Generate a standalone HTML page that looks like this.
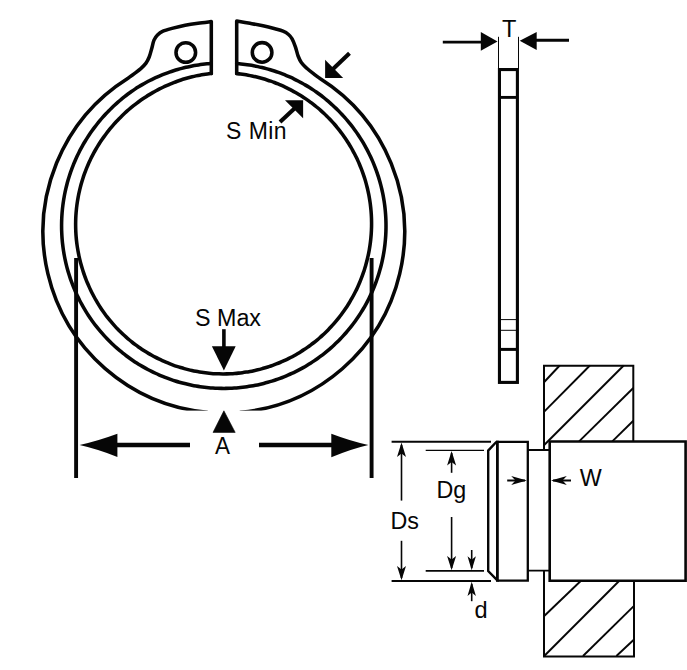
<!DOCTYPE html>
<html lang="en">
<head>
<meta charset="utf-8">
<title>External Circlip Dimensions</title>
<style>
html,body{margin:0;padding:0;background:#fff;}
body{width:687px;height:670px;overflow:hidden;}
svg{display:block;}
text{font-family:"Liberation Sans",sans-serif;fill:#060606;}
</style>
</head>
<body>
<svg width="687" height="670" viewBox="0 0 687 670">
<rect width="687" height="670" fill="#fff"/>

<!-- front view of ring -->
<g fill="none" stroke="#060606" stroke-width="3.55" stroke-linecap="round" stroke-linejoin="round">
  <path d="M211.3 73.53 L211.3 21.6 C209.08 21.87 202.35 22.58 198.00 23.20 C193.65 23.82 189.53 24.43 185.20 25.30 C180.87 26.17 175.70 27.42 172.00 28.40 C168.30 29.38 165.42 30.10 163.00 31.20 C160.58 32.30 159.00 33.52 157.50 35.00 C156.00 36.48 154.95 37.90 154.00 40.10 C153.05 42.30 152.60 45.38 151.80 48.20 C151.00 51.02 150.20 54.47 149.20 57.00 C148.20 59.53 147.20 61.47 145.80 63.40 C144.40 65.33 142.77 66.86 140.80 68.60 C138.83 70.34 136.13 72.23 134.00 73.83 C131.87 75.44 129.00 77.49 128.00 78.23 A180.8 181.2 0 0 0 207.00 412.32"/>
  <path d="M236.7 73.57 L236.7 21 C238.92 21.38 245.62 22.50 250.00 23.30 C254.38 24.10 258.83 24.88 263.00 25.80 C267.17 26.72 271.67 27.90 275.00 28.80 C278.33 29.70 280.75 30.25 283.00 31.20 C285.25 32.15 286.98 33.23 288.50 34.50 C290.02 35.77 290.95 36.75 292.10 38.80 C293.25 40.85 294.40 43.93 295.40 46.80 C296.40 49.67 297.08 53.33 298.10 56.00 C299.12 58.67 300.05 60.75 301.50 62.80 C302.95 64.85 304.72 66.42 306.80 68.30 C308.88 70.18 311.80 72.36 314.00 74.06 C316.20 75.76 319.00 77.74 320.00 78.48 A180.8 181.2 0 0 1 240.60 412.32"/>
  <path d="M211.30 63.47 C210.58 63.53 208.43 63.69 207.01 63.83 C205.58 63.97 204.17 64.13 202.76 64.31 C201.34 64.49 199.93 64.68 198.52 64.90 C197.11 65.11 195.70 65.34 194.30 65.59 C192.90 65.84 191.49 66.11 190.10 66.40 C188.70 66.69 187.31 66.99 185.92 67.32 C184.53 67.64 183.14 67.99 181.76 68.35 C180.38 68.71 179.01 69.09 177.64 69.49 C176.27 69.88 174.90 70.30 173.54 70.73 C172.18 71.17 170.83 71.62 169.48 72.09 C168.13 72.56 166.79 73.05 165.45 73.55 C164.12 74.06 162.79 74.58 161.47 75.12 C160.15 75.67 158.83 76.23 157.53 76.81 C156.22 77.38 154.92 77.98 153.63 78.60 C152.35 79.21 151.06 79.85 149.79 80.50 C148.52 81.15 147.26 81.81 146.00 82.50 C144.75 83.18 143.51 83.89 142.27 84.61 C141.04 85.32 139.82 86.06 138.60 86.82 C137.39 87.57 136.19 88.34 134.99 89.13 C133.80 89.91 132.62 90.71 131.45 91.53 C130.28 92.35 129.12 93.19 127.97 94.04 C126.83 94.89 125.69 95.75 124.57 96.64 C123.45 97.52 122.34 98.42 121.24 99.33 C120.14 100.24 119.05 101.17 117.98 102.11 C116.91 103.05 115.85 104.00 114.80 104.97 C113.75 105.94 112.72 106.92 111.69 107.91 C110.67 108.91 109.66 109.91 108.66 110.93 C107.66 111.95 106.68 112.99 105.71 114.03 C104.74 115.08 103.78 116.13 102.84 117.20 C101.90 118.27 100.97 119.35 100.05 120.44 C99.13 121.54 98.23 122.64 97.35 123.76 C96.46 124.87 95.58 126.00 94.73 127.13 C93.87 128.27 93.02 129.42 92.20 130.58 C91.37 131.74 90.55 132.91 89.75 134.09 C88.95 135.27 88.17 136.46 87.40 137.66 C86.63 138.86 85.88 140.07 85.14 141.29 C84.40 142.51 83.68 143.73 82.97 144.97 C82.27 146.21 81.58 147.46 80.91 148.71 C80.23 149.97 79.58 151.23 78.94 152.51 C78.30 153.78 77.67 155.06 77.07 156.35 C76.46 157.64 75.87 158.94 75.30 160.24 C74.73 161.55 74.17 162.86 73.63 164.18 C73.10 165.50 72.58 166.83 72.07 168.16 C71.57 169.49 71.09 170.83 70.62 172.18 C70.15 173.52 69.70 174.88 69.27 176.23 C68.84 177.59 68.42 178.95 68.03 180.32 C67.63 181.69 67.25 183.06 66.89 184.44 C66.53 185.82 66.19 187.20 65.86 188.59 C65.54 189.98 65.23 191.37 64.95 192.77 C64.66 194.16 64.39 195.56 64.14 196.96 C63.89 198.37 63.66 199.77 63.44 201.18 C63.23 202.59 63.03 204.00 62.86 205.41 C62.68 206.83 62.52 208.24 62.38 209.66 C62.24 211.08 62.12 212.50 62.02 213.92 C61.91 215.34 61.83 216.76 61.76 218.18 C61.70 219.61 61.65 221.03 61.62 222.45 C61.59 223.88 61.58 225.30 61.59 226.73 C61.60 228.15 61.63 229.58 61.67 231.00 C61.72 232.42 61.78 233.85 61.87 235.27 C61.95 236.69 62.05 238.11 62.17 239.53 C62.29 240.95 62.43 242.37 62.58 243.78 C62.74 245.20 62.92 246.61 63.11 248.02 C63.30 249.43 63.52 250.84 63.75 252.25 C63.98 253.65 64.23 255.05 64.49 256.45 C64.76 257.85 65.05 259.25 65.35 260.64 C65.65 262.03 65.98 263.42 66.32 264.80 C66.66 266.18 67.01 267.56 67.39 268.93 C67.77 270.31 68.16 271.68 68.57 273.04 C68.99 274.40 69.42 275.76 69.87 277.11 C70.31 278.46 70.78 279.81 71.26 281.15 C71.75 282.49 72.25 283.82 72.76 285.15 C73.28 286.47 73.82 287.79 74.37 289.10 C74.92 290.42 75.49 291.72 76.08 293.02 C76.67 294.32 77.27 295.60 77.89 296.89 C78.52 298.17 79.15 299.44 79.81 300.70 C80.46 301.97 81.13 303.22 81.82 304.47 C82.51 305.72 83.21 306.96 83.93 308.18 C84.65 309.41 85.39 310.63 86.14 311.84 C86.89 313.05 87.66 314.25 88.44 315.44 C89.23 316.62 90.02 317.80 90.84 318.97 C91.65 320.14 92.48 321.29 93.33 322.44 C94.17 323.59 95.03 324.72 95.91 325.84 C96.78 326.97 97.67 328.08 98.57 329.18 C99.48 330.28 100.39 331.36 101.33 332.44 C102.26 333.51 103.20 334.58 104.16 335.63 C105.12 336.68 106.10 337.72 107.08 338.74 C108.07 339.77 109.07 340.78 110.09 341.78 C111.10 342.78 112.13 343.76 113.17 344.73 C114.21 345.70 115.26 346.66 116.32 347.61 C117.39 348.55 118.46 349.48 119.55 350.39 C120.64 351.31 121.74 352.21 122.86 353.10 C123.97 353.98 125.09 354.85 126.23 355.71 C127.37 356.57 128.51 357.41 129.67 358.24 C130.83 359.06 132.00 359.87 133.18 360.67 C134.35 361.47 135.54 362.25 136.74 363.01 C137.94 363.77 139.15 364.52 140.37 365.26 C141.59 365.99 142.82 366.71 144.06 367.41 C145.29 368.11 146.54 368.79 147.80 369.46 C149.05 370.12 150.32 370.78 151.59 371.41 C152.86 372.04 154.15 372.66 155.44 373.26 C156.72 373.86 158.02 374.44 159.33 375.01 C160.63 375.58 161.94 376.13 163.26 376.66 C164.58 377.19 165.91 377.70 167.24 378.20 C168.57 378.70 169.91 379.18 171.25 379.64 C172.60 380.10 173.95 380.54 175.31 380.97 C176.66 381.39 178.03 381.80 179.39 382.19 C180.76 382.58 182.13 382.95 183.51 383.31 C184.89 383.66 186.27 384.00 187.65 384.31 C189.04 384.63 190.43 384.93 191.82 385.21 C193.22 385.49 194.62 385.75 196.02 386.00 C197.42 386.24 198.82 386.47 200.23 386.67 C201.63 386.88 203.04 387.07 204.45 387.24 C205.87 387.41 207.28 387.56 208.69 387.69 C210.11 387.83 211.53 387.94 212.95 388.04 C214.36 388.13 215.78 388.21 217.20 388.27 C218.62 388.32 220.05 388.36 221.47 388.38 C222.89 388.40 224.31 388.41 225.73 388.39 C227.15 388.37 228.57 388.34 230.00 388.28 C231.42 388.23 232.84 388.15 234.25 388.06 C235.67 387.97 237.09 387.86 238.51 387.73 C239.92 387.60 241.34 387.45 242.75 387.29 C244.16 387.12 245.57 386.94 246.98 386.73 C248.38 386.53 249.79 386.31 251.19 386.07 C252.59 385.83 253.99 385.57 255.38 385.29 C256.78 385.01 258.17 384.72 259.55 384.40 C260.94 384.09 262.32 383.76 263.70 383.41 C265.08 383.06 266.45 382.69 267.82 382.30 C269.19 381.91 270.55 381.51 271.91 381.09 C273.27 380.66 274.62 380.22 275.97 379.77 C277.31 379.31 278.65 378.83 279.99 378.34 C281.32 377.85 282.65 377.33 283.97 376.81 C285.29 376.28 286.60 375.73 287.91 375.17 C289.21 374.61 290.51 374.03 291.80 373.43 C293.09 372.83 294.37 372.22 295.65 371.59 C296.92 370.96 298.19 370.31 299.45 369.64 C300.70 368.98 301.95 368.30 303.19 367.60 C304.43 366.91 305.66 366.19 306.88 365.46 C308.11 364.73 309.32 363.99 310.52 363.23 C311.72 362.46 312.91 361.69 314.09 360.89 C315.27 360.10 316.44 359.29 317.60 358.47 C318.76 357.65 319.91 356.81 321.05 355.95 C322.19 355.10 323.31 354.23 324.43 353.35 C325.54 352.46 326.65 351.56 327.74 350.65 C328.83 349.74 329.91 348.81 330.98 347.87 C332.04 346.93 333.10 345.97 334.14 345.01 C335.18 344.04 336.21 343.05 337.23 342.06 C338.24 341.06 339.25 340.05 340.24 339.03 C341.23 338.01 342.20 336.97 343.17 335.92 C344.13 334.88 345.08 333.82 346.01 332.74 C346.95 331.67 347.87 330.58 348.77 329.49 C349.68 328.39 350.57 327.28 351.45 326.16 C352.32 325.04 353.19 323.91 354.03 322.76 C354.88 321.62 355.71 320.46 356.53 319.30 C357.35 318.13 358.15 316.96 358.94 315.77 C359.72 314.58 360.49 313.39 361.25 312.18 C362.00 310.97 362.74 309.76 363.47 308.53 C364.19 307.30 364.89 306.07 365.59 304.82 C366.28 303.58 366.95 302.32 367.61 301.06 C368.26 299.80 368.91 298.53 369.53 297.25 C370.15 295.97 370.76 294.68 371.35 293.38 C371.94 292.09 372.52 290.78 373.07 289.47 C373.63 288.16 374.17 286.85 374.69 285.52 C375.21 284.20 375.71 282.86 376.20 281.53 C376.69 280.19 377.16 278.84 377.61 277.49 C378.06 276.14 378.49 274.79 378.91 273.42 C379.32 272.06 379.72 270.69 380.10 269.32 C380.48 267.95 380.84 266.57 381.19 265.19 C381.53 263.81 381.86 262.42 382.16 261.03 C382.47 259.64 382.76 258.25 383.03 256.85 C383.30 255.45 383.55 254.05 383.79 252.64 C384.02 251.24 384.24 249.83 384.43 248.42 C384.63 247.01 384.81 245.60 384.97 244.18 C385.13 242.77 385.27 241.35 385.39 239.93 C385.52 238.51 385.62 237.09 385.71 235.67 C385.79 234.25 385.86 232.82 385.91 231.40 C385.96 229.98 385.98 228.55 386.00 227.13 C386.01 225.70 386.00 224.28 385.97 222.86 C385.94 221.43 385.90 220.01 385.84 218.59 C385.77 217.16 385.69 215.74 385.59 214.32 C385.49 212.90 385.37 211.48 385.23 210.06 C385.09 208.65 384.93 207.23 384.76 205.82 C384.58 204.40 384.39 202.99 384.17 201.58 C383.96 200.18 383.73 198.77 383.48 197.37 C383.23 195.97 382.96 194.57 382.68 193.17 C382.39 191.78 382.09 190.39 381.76 189.00 C381.44 187.61 381.10 186.23 380.74 184.85 C380.38 183.47 380.00 182.10 379.61 180.73 C379.21 179.36 378.80 178.00 378.37 176.64 C377.94 175.29 377.49 173.93 377.02 172.59 C376.56 171.24 376.07 169.90 375.57 168.57 C375.07 167.24 374.55 165.91 374.01 164.59 C373.48 163.27 372.92 161.96 372.35 160.66 C371.78 159.35 371.19 158.06 370.59 156.77 C369.99 155.48 369.36 154.20 368.72 152.93 C368.09 151.65 367.43 150.39 366.76 149.13 C366.09 147.88 365.40 146.63 364.70 145.39 C363.99 144.16 363.27 142.93 362.54 141.71 C361.80 140.49 361.05 139.28 360.29 138.08 C359.52 136.88 358.74 135.69 357.94 134.51 C357.14 133.33 356.33 132.16 355.50 131.01 C354.68 129.85 353.83 128.70 352.98 127.56 C352.12 126.43 351.25 125.30 350.36 124.19 C349.48 123.07 348.58 121.97 347.66 120.88 C346.75 119.79 345.82 118.71 344.87 117.64 C343.93 116.57 342.98 115.52 342.01 114.47 C341.04 113.43 340.05 112.40 339.06 111.38 C338.06 110.37 337.05 109.36 336.03 108.37 C335.01 107.38 333.97 106.40 332.92 105.44 C331.87 104.47 330.81 103.52 329.74 102.59 C328.66 101.65 327.58 100.73 326.48 99.82 C325.38 98.91 324.27 98.02 323.15 97.14 C322.03 96.26 320.90 95.40 319.75 94.55 C318.61 93.70 317.45 92.86 316.29 92.05 C315.12 91.23 313.94 90.42 312.76 89.64 C311.57 88.85 310.37 88.08 309.16 87.32 C307.95 86.56 306.74 85.82 305.51 85.10 C304.28 84.37 303.04 83.67 301.79 82.98 C300.55 82.29 299.29 81.61 298.02 80.96 C296.76 80.30 295.48 79.66 294.20 79.04 C292.92 78.42 291.63 77.81 290.33 77.23 C289.03 76.64 287.72 76.07 286.40 75.52 C285.09 74.97 283.77 74.44 282.44 73.92 C281.11 73.40 279.77 72.91 278.43 72.43 C277.09 71.95 275.74 71.49 274.38 71.05 C273.03 70.60 271.66 70.18 270.30 69.77 C268.93 69.37 267.56 68.98 266.18 68.61 C264.80 68.25 263.42 67.90 262.04 67.57 C260.65 67.24 259.26 66.92 257.86 66.63 C256.47 66.34 255.07 66.06 253.67 65.80 C252.27 65.54 250.86 65.30 249.46 65.08 C248.05 64.86 246.64 64.65 245.23 64.47 C243.82 64.28 242.40 64.11 240.98 63.96 C239.56 63.81 237.41 63.63 236.70 63.57"/>
  <path d="M211.30 73.53 C210.66 73.60 208.76 73.80 207.48 73.96 C206.20 74.12 204.91 74.29 203.62 74.49 C202.34 74.69 201.06 74.90 199.79 75.13 C198.52 75.37 197.24 75.62 195.98 75.88 C194.71 76.15 193.45 76.44 192.19 76.75 C190.93 77.05 189.67 77.37 188.43 77.71 C187.18 78.05 185.93 78.41 184.69 78.79 C183.45 79.16 182.22 79.55 180.99 79.96 C179.76 80.36 178.54 80.79 177.32 81.22 C176.11 81.66 174.89 82.12 173.69 82.59 C172.49 83.06 171.29 83.55 170.10 84.05 C168.90 84.55 167.72 85.07 166.54 85.60 C165.36 86.13 164.19 86.67 163.03 87.23 C161.86 87.79 160.70 88.37 159.55 88.95 C158.40 89.54 157.26 90.14 156.12 90.76 C154.99 91.38 153.86 92.01 152.74 92.65 C151.62 93.29 150.51 93.95 149.40 94.63 C148.30 95.30 147.20 95.98 146.12 96.68 C145.03 97.38 143.95 98.09 142.88 98.82 C141.81 99.54 140.75 100.28 139.70 101.03 C138.64 101.79 137.60 102.55 136.57 103.33 C135.54 104.11 134.51 104.90 133.50 105.70 C132.48 106.51 131.48 107.32 130.48 108.15 C129.49 108.98 128.50 109.82 127.53 110.68 C126.56 111.53 125.60 112.40 124.65 113.28 C123.70 114.16 122.76 115.06 121.83 115.96 C120.90 116.87 119.99 117.79 119.08 118.71 C118.18 119.64 117.29 120.59 116.40 121.54 C115.52 122.49 114.65 123.45 113.79 124.43 C112.93 125.40 112.09 126.38 111.25 127.38 C110.42 128.37 109.59 129.38 108.78 130.40 C107.97 131.41 107.17 132.44 106.39 133.48 C105.60 134.51 104.83 135.56 104.07 136.62 C103.31 137.67 102.56 138.74 101.82 139.82 C101.09 140.89 100.37 141.98 99.66 143.08 C98.96 144.17 98.26 145.28 97.58 146.39 C96.90 147.51 96.24 148.63 95.58 149.76 C94.93 150.89 94.29 152.03 93.67 153.18 C93.05 154.33 92.44 155.49 91.84 156.65 C91.25 157.82 90.67 158.99 90.11 160.18 C89.55 161.36 89.00 162.55 88.47 163.75 C87.94 164.94 87.43 166.15 86.93 167.36 C86.43 168.58 85.95 169.80 85.48 171.02 C85.02 172.25 84.57 173.48 84.13 174.72 C83.70 175.96 83.28 177.20 82.88 178.46 C82.48 179.71 82.09 180.96 81.72 182.22 C81.35 183.49 81.00 184.75 80.66 186.02 C80.33 187.29 80.01 188.57 79.70 189.85 C79.40 191.13 79.11 192.42 78.84 193.70 C78.57 194.99 78.32 196.28 78.08 197.58 C77.84 198.88 77.62 200.18 77.42 201.48 C77.22 202.78 77.03 204.08 76.86 205.39 C76.69 206.70 76.54 208.01 76.41 209.32 C76.28 210.63 76.16 211.95 76.06 213.26 C75.96 214.58 75.88 215.90 75.81 217.21 C75.75 218.53 75.70 219.85 75.67 221.17 C75.64 222.49 75.63 223.81 75.64 225.13 C75.64 226.45 75.67 227.77 75.71 229.09 C75.75 230.41 75.81 231.73 75.88 233.05 C75.96 234.37 76.05 235.69 76.16 237.00 C76.27 238.32 76.40 239.64 76.54 240.95 C76.69 242.26 76.85 243.57 77.03 244.88 C77.21 246.19 77.41 247.50 77.63 248.80 C77.84 250.10 78.07 251.41 78.32 252.70 C78.57 254.00 78.83 255.30 79.11 256.59 C79.40 257.88 79.69 259.16 80.01 260.45 C80.32 261.73 80.66 263.01 81.00 264.28 C81.35 265.56 81.72 266.83 82.10 268.09 C82.48 269.36 82.88 270.61 83.29 271.87 C83.70 273.12 84.13 274.37 84.58 275.61 C85.03 276.86 85.49 278.09 85.97 279.32 C86.44 280.56 86.94 281.78 87.45 283.00 C87.96 284.21 88.49 285.43 89.03 286.63 C89.57 287.83 90.13 289.03 90.70 290.22 C91.27 291.41 91.86 292.59 92.46 293.76 C93.06 294.93 93.68 296.10 94.32 297.26 C94.95 298.41 95.60 299.56 96.26 300.70 C96.93 301.84 97.60 302.97 98.30 304.09 C98.99 305.21 99.70 306.33 100.42 307.43 C101.14 308.53 101.87 309.62 102.62 310.71 C103.37 311.79 104.14 312.86 104.92 313.93 C105.69 314.99 106.49 316.04 107.29 317.08 C108.10 318.12 108.92 319.15 109.75 320.17 C110.59 321.19 111.44 322.20 112.30 323.19 C113.16 324.19 114.03 325.17 114.92 326.14 C115.80 327.11 116.70 328.07 117.61 329.02 C118.53 329.97 119.45 330.90 120.39 331.82 C121.33 332.74 122.27 333.65 123.24 334.55 C124.20 335.44 125.17 336.32 126.15 337.19 C127.14 338.06 128.13 338.92 129.14 339.76 C130.15 340.60 131.17 341.43 132.20 342.24 C133.22 343.05 134.26 343.85 135.31 344.64 C136.36 345.42 137.43 346.19 138.50 346.95 C139.57 347.70 140.65 348.44 141.73 349.17 C142.82 349.90 143.92 350.61 145.03 351.31 C146.14 352.01 147.25 352.69 148.38 353.36 C149.50 354.02 150.64 354.68 151.78 355.31 C152.92 355.95 154.07 356.57 155.23 357.18 C156.39 357.79 157.56 358.38 158.73 358.95 C159.90 359.53 161.08 360.09 162.27 360.63 C163.46 361.17 164.65 361.70 165.85 362.21 C167.06 362.72 168.26 363.22 169.48 363.70 C170.69 364.18 171.91 364.64 173.14 365.08 C174.36 365.53 175.59 365.96 176.83 366.37 C178.07 366.79 179.31 367.18 180.56 367.56 C181.81 367.94 183.06 368.31 184.31 368.65 C185.57 369.00 186.83 369.33 188.10 369.64 C189.36 369.95 190.63 370.25 191.90 370.53 C193.17 370.81 194.45 371.07 195.73 371.31 C197.01 371.56 198.29 371.78 199.58 371.99 C200.86 372.20 202.15 372.40 203.44 372.57 C204.73 372.75 206.02 372.91 207.31 373.05 C208.61 373.19 209.90 373.31 211.20 373.42 C212.50 373.53 213.80 373.62 215.10 373.69 C216.39 373.76 217.69 373.82 219.00 373.85 C220.30 373.89 221.60 373.91 222.90 373.91 C224.20 373.92 225.50 373.90 226.80 373.87 C228.10 373.84 229.40 373.79 230.70 373.73 C232.00 373.66 233.30 373.58 234.60 373.48 C235.89 373.38 237.19 373.26 238.48 373.12 C239.78 372.99 241.07 372.84 242.36 372.67 C243.65 372.50 244.94 372.31 246.22 372.11 C247.51 371.91 248.79 371.68 250.07 371.45 C251.35 371.21 252.63 370.95 253.90 370.68 C255.17 370.41 256.44 370.12 257.71 369.82 C258.97 369.51 260.24 369.19 261.49 368.85 C262.75 368.51 264.00 368.15 265.25 367.78 C266.50 367.40 267.74 367.01 268.98 366.61 C270.22 366.20 271.45 365.78 272.68 365.34 C273.91 364.90 275.13 364.44 276.34 363.97 C277.56 363.50 278.77 363.01 279.97 362.50 C281.17 362.00 282.37 361.48 283.56 360.94 C284.75 360.40 285.93 359.85 287.10 359.28 C288.28 358.71 289.44 358.13 290.60 357.53 C291.76 356.93 292.92 356.31 294.06 355.68 C295.20 355.05 296.34 354.41 297.46 353.75 C298.59 353.08 299.71 352.41 300.82 351.72 C301.93 351.03 303.03 350.32 304.12 349.60 C305.21 348.88 306.29 348.14 307.37 347.39 C308.44 346.64 309.50 345.88 310.55 345.10 C311.60 344.32 312.65 343.53 313.68 342.73 C314.71 341.92 315.73 341.10 316.74 340.27 C317.75 339.43 318.75 338.59 319.74 337.73 C320.73 336.87 321.71 335.99 322.67 335.11 C323.64 334.22 324.59 333.32 325.54 332.41 C326.48 331.50 327.41 330.57 328.33 329.64 C329.25 328.70 330.15 327.75 331.05 326.79 C331.94 325.83 332.83 324.86 333.69 323.87 C334.56 322.89 335.42 321.89 336.26 320.88 C337.11 319.88 337.94 318.86 338.75 317.83 C339.57 316.80 340.37 315.76 341.16 314.70 C341.95 313.65 342.73 312.59 343.49 311.52 C344.25 310.45 345.00 309.36 345.74 308.27 C346.47 307.18 347.19 306.08 347.90 304.97 C348.60 303.85 349.29 302.73 349.97 301.60 C350.65 300.47 351.31 299.33 351.96 298.19 C352.60 297.04 353.24 295.88 353.85 294.72 C354.47 293.55 355.07 292.38 355.66 291.20 C356.25 290.02 356.82 288.83 357.38 287.63 C357.93 286.44 358.47 285.23 359.00 284.02 C359.52 282.81 360.03 281.59 360.53 280.37 C361.02 279.14 361.50 277.91 361.96 276.68 C362.42 275.44 362.87 274.20 363.30 272.95 C363.72 271.70 364.14 270.44 364.54 269.18 C364.93 267.92 365.31 266.66 365.68 265.39 C366.04 264.12 366.39 262.84 366.72 261.56 C367.05 260.28 367.37 259.00 367.66 257.71 C367.96 256.42 368.24 255.13 368.51 253.83 C368.77 252.54 369.02 251.24 369.25 249.94 C369.48 248.63 369.69 247.33 369.89 246.02 C370.09 244.71 370.27 243.40 370.43 242.09 C370.59 240.78 370.74 239.46 370.87 238.14 C370.99 236.83 371.10 235.51 371.20 234.19 C371.29 232.87 371.37 231.55 371.42 230.23 C371.48 228.90 371.52 227.58 371.55 226.26 C371.57 224.94 371.58 223.61 371.56 222.29 C371.55 220.97 371.52 219.64 371.48 218.32 C371.43 217.00 371.37 215.68 371.29 214.36 C371.21 213.04 371.11 211.72 370.99 210.40 C370.88 209.08 370.74 207.77 370.59 206.45 C370.44 205.14 370.28 203.83 370.09 202.52 C369.91 201.21 369.70 199.91 369.48 198.60 C369.27 197.30 369.03 196.00 368.78 194.70 C368.52 193.41 368.25 192.11 367.97 190.82 C367.68 189.53 367.38 188.25 367.06 186.97 C366.74 185.69 366.40 184.41 366.05 183.14 C365.70 181.86 365.33 180.60 364.95 179.34 C364.56 178.07 364.16 176.82 363.74 175.57 C363.32 174.32 362.89 173.07 362.44 171.83 C361.99 170.59 361.53 169.36 361.04 168.13 C360.56 166.91 360.06 165.69 359.55 164.47 C359.04 163.26 358.51 162.05 357.97 160.86 C357.42 159.66 356.86 158.47 356.29 157.28 C355.71 156.10 355.12 154.92 354.52 153.76 C353.91 152.59 353.29 151.43 352.65 150.28 C352.02 149.13 351.37 147.98 350.70 146.85 C350.04 145.72 349.36 144.59 348.67 143.48 C347.97 142.36 347.26 141.26 346.54 140.16 C345.82 139.07 345.08 137.98 344.33 136.91 C343.58 135.83 342.82 134.76 342.04 133.71 C341.26 132.65 340.47 131.61 339.67 130.57 C338.86 129.54 338.04 128.52 337.21 127.51 C336.38 126.49 335.54 125.49 334.68 124.50 C333.82 123.51 332.95 122.54 332.07 121.57 C331.19 120.61 330.30 119.65 329.39 118.71 C328.48 117.77 327.56 116.84 326.63 115.92 C325.70 115.00 324.76 114.10 323.81 113.21 C322.85 112.32 321.89 111.44 320.91 110.57 C319.93 109.71 318.95 108.85 317.95 108.01 C316.95 107.18 315.94 106.35 314.92 105.54 C313.90 104.73 312.87 103.93 311.83 103.14 C310.79 102.36 309.74 101.59 308.68 100.83 C307.62 100.08 306.55 99.33 305.47 98.61 C304.39 97.88 303.30 97.17 302.21 96.47 C301.11 95.77 300.00 95.09 298.89 94.42 C297.77 93.75 296.65 93.10 295.52 92.46 C294.39 91.82 293.25 91.19 292.10 90.58 C290.96 89.97 289.81 89.37 288.64 88.79 C287.48 88.21 286.32 87.64 285.14 87.09 C283.97 86.54 282.79 86.00 281.60 85.48 C280.41 84.96 279.22 84.45 278.02 83.96 C276.82 83.47 275.61 82.99 274.40 82.53 C273.19 82.07 271.97 81.62 270.74 81.19 C269.52 80.76 268.29 80.35 267.06 79.95 C265.82 79.55 264.59 79.17 263.34 78.80 C262.10 78.43 260.85 78.08 259.60 77.75 C258.35 77.41 257.09 77.09 255.83 76.79 C254.57 76.48 253.30 76.20 252.03 75.93 C250.77 75.66 249.49 75.41 248.22 75.18 C246.94 74.95 245.66 74.73 244.38 74.54 C243.10 74.34 241.81 74.16 240.53 74.00 C239.25 73.84 237.34 73.64 236.70 73.57"/>
  <circle cx="185.8" cy="52.5" r="9.8"/>
  <circle cx="262.1" cy="52.4" r="9.8"/>
</g>
<rect x="180" y="410.6" width="89" height="6" fill="#fff"/>

<!-- S Min arrows -->
<g stroke="#060606" stroke-width="4.1" fill="#060606">
  <line x1="349.5" y1="53.3" x2="333" y2="69"/>
  <line x1="280" y1="122" x2="295" y2="108"/>
</g>
<polygon points="325.1,77.9 325.1,59.8 343.2,77.9" fill="#060606"/>
<polygon points="303.1,100.2 285,100.2 303.1,118.3" fill="#060606"/>
<text x="226" y="138.9" font-size="23" letter-spacing="0.45">S Min</text>

<!-- S Max -->
<text x="195" y="326" font-size="23.3">S Max</text>
<line x1="223.9" y1="329.2" x2="223.9" y2="348" stroke="#060606" stroke-width="3.6"/>
<polygon points="211.9,346.2 235.7,346.2 223.9,370.4" fill="#060606"/>
<polygon points="223.9,410.8 213,432.4 235.2,432.4" fill="#060606" stroke="#060606" stroke-width="0.6" stroke-linejoin="round"/>

<!-- A dimension -->
<g stroke="#060606" fill="none">
  <line x1="76.1" y1="258" x2="76.1" y2="478" stroke-width="3.9"/>
  <line x1="371.6" y1="258" x2="371.6" y2="478" stroke-width="3.9"/>
  <line x1="116" y1="445" x2="190" y2="445" stroke-width="4.7"/>
  <line x1="259" y1="445" x2="332" y2="445" stroke-width="4.7"/>
</g>
<path d="M79.6 445 Q97 441.3 117.4 433.8 L117.4 456.9 Q97 448.9 79.6 445 Z" fill="#060606"/>
<path d="M368.4 445 Q351 441.3 331.3 433.8 L331.3 457.3 Q351 449 368.4 445 Z" fill="#060606"/>
<text transform="translate(222.5 453.9) scale(0.95 1)" text-anchor="middle" font-size="23.7">A</text>

<!-- side view -->
<g stroke="#060606" fill="none">
  <line x1="498.5" y1="36.8" x2="498.5" y2="69" stroke-width="1"/>
  <line x1="518.5" y1="36.8" x2="518.5" y2="69" stroke-width="1"/>
  <rect x="499.45" y="69.55" width="17.95" height="312.85" stroke-width="3.1"/>
  <line x1="499.3" y1="97.4" x2="517.5" y2="97.4" stroke-width="2.9"/>
  <line x1="499.3" y1="319.6" x2="517.5" y2="319.6" stroke-width="1"/>
  <line x1="499.3" y1="330.3" x2="517.5" y2="330.3" stroke-width="1"/>
  <line x1="499.3" y1="349.4" x2="517.5" y2="349.4" stroke-width="3"/>
  <line x1="442.8" y1="42.1" x2="482" y2="42.1" stroke-width="2.9"/>
  <line x1="536" y1="40.3" x2="569" y2="40.3" stroke-width="2.9"/>
</g>
<polygon points="497.5,41.5 480.8,32.1 480.8,50.8" fill="#060606"/>
<polygon points="519.7,40.7 536.7,32.1 536.7,50" fill="#060606"/>
<text x="509.1" y="36.8" text-anchor="middle" font-size="23.6">T</text>

<!-- shaft assembly -->
<g stroke="#060606" fill="none" stroke-linecap="butt">
  <path d="M544 450 L544 365.8 L633.3 365.8 L633.3 441.4" stroke-width="2"/>
  <g stroke-width="1.9">
    <line x1="544.2" y1="382" x2="559.7" y2="365.5"/>
    <line x1="544.2" y1="411.7" x2="589.9" y2="365.5"/>
    <line x1="544.2" y1="445" x2="623.7" y2="365.5"/>
    <line x1="579.1" y1="441.4" x2="633.3" y2="388"/>
    <line x1="612.3" y1="441.4" x2="633.3" y2="420.8"/>
  </g>
  <path d="M544 570.3 L544 656.6 L634 656.6 L634 580.6" stroke-width="2"/>
  <g stroke-width="1.9">
    <line x1="544.2" y1="616" x2="580.7" y2="581"/>
    <line x1="544.2" y1="656" x2="619.1" y2="581"/>
    <line x1="583" y1="656" x2="633.5" y2="606.4"/>
    <line x1="616.4" y1="656" x2="633.5" y2="640"/>
  </g>
  <path d="M549.7 441.5 L685.6 441.5 L685.6 580.7 L549.7 580.7 Z" stroke-width="2.6"/>
  <path d="M527.8 450 L549.7 450 M527.8 570.6 L549.7 570.6" stroke-width="1.9"/>
  <path d="M496 441.8 L527.8 441.8 L527.8 580.7 L497.4 580.7" stroke-width="2.3"/>
  <line x1="497.4" y1="440.7" x2="497.4" y2="581.8" stroke-width="2.8"/>
  <path d="M496.5 441.8 L488.2 450.6 L488.2 571 L497.6 580.6" stroke-width="2.4"/>
  <line x1="391.6" y1="441.8" x2="491" y2="441.8" stroke-width="2.1"/>
  <line x1="391.6" y1="581" x2="491" y2="581" stroke-width="1.8"/>
  <line x1="425.7" y1="450.3" x2="484" y2="450.3" stroke-width="1.2"/>
  <line x1="425.7" y1="570.9" x2="484" y2="570.9" stroke-width="1.6"/>
  <g stroke-width="1.6">
    <line x1="401.5" y1="445" x2="401.5" y2="500.6"/>
    <line x1="401.5" y1="540.8" x2="401.5" y2="578"/>
    <line x1="451.6" y1="453" x2="451.6" y2="472.8"/>
    <line x1="451.6" y1="517" x2="451.6" y2="568"/>
    <line x1="471.7" y1="550" x2="471.7" y2="568"/>
    <line x1="471.7" y1="584" x2="471.7" y2="601.2"/>
    <line x1="507.2" y1="480.5" x2="525" y2="480.5" stroke-width="2"/>
    <line x1="553" y1="480.5" x2="571" y2="480.5" stroke-width="2"/>
  </g>
</g>
<g fill="#060606">
  <polygon points="401.5,442.5 397,457 401.5,453.5 406,457"/>
  <polygon points="401.5,580.3 397,566 401.5,569.5 406,566"/>
  <polygon points="451.6,451 447.1,465.5 451.6,462 456.1,465.5"/>
  <polygon points="451.6,570.3 447.1,556 451.6,559.5 456.1,556"/>
  <polygon points="471.7,570.3 467.5,556.2 471.7,559.7 475.9,556.2"/>
  <polygon points="471.7,581.8 467.5,596 471.7,592.5 475.9,596"/>
  <polygon points="526.8,480.5 511.2,476 515.5,480.5 511.2,485"/>
  <polygon points="551,480.5 566.8,476 562.5,480.5 566.8,485"/>
</g>
<text x="436.5" y="498" font-size="23.3">Dg</text>
<text x="390.4" y="528.5" font-size="23.3">Ds</text>
<text x="474.5" y="617.6" font-size="23.6">d</text>
<text x="579.7" y="485.9" font-size="23.3">W</text>
</svg>
</body>
</html>
